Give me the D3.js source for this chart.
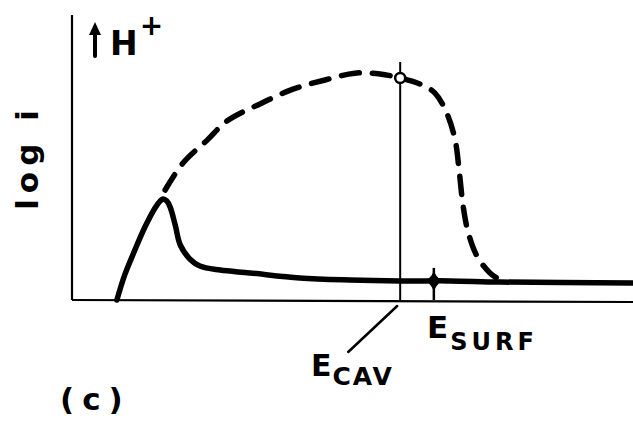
<!DOCTYPE html>
<html>
<head>
<meta charset="utf-8">
<script src="https://cdn.jsdelivr.net/npm/d3@7/dist/d3.min.js"></script>
<style>
  html, body { margin: 0; padding: 0; background: #fff; }
  svg text { font-family: "DejaVu Sans", sans-serif; font-weight: bold; fill: #000; }
</style>
</head>
<body>
<svg id="chart" width="633" height="423"></svg>
<script>
// Potential (arbitrary units, 0–100 across the axis) and log current (0–100)
const solidE    = [8.0, 9.4, 11.2, 13.0, 14.8, 15.7, 16.2, 16.9, 17.5, 18.4, 19.3, 21.0, 22.8, 26.4, 31.7, 40.6, 49.6, 58.5, 67.4, 76.3, 100];
const solidLogI = [0, 8.8, 17.5, 25.6, 32.3, 34.7, 35.4, 34.7, 32.6, 26.3, 19.3, 14.4, 11.9, 10.5, 9.5, 7.7, 7.0, 6.7, 6.7, 6.3, 6.0];

const dashedE    = [16.6, 19.8, 24.1, 27.6, 33.5, 39.4, 45.1, 50.4, 54.9, 58.5, 62.0, 64.7, 66.8, 68.3, 69.0, 69.7, 70.6, 72.2, 74.5, 76.6];
const dashedLogI = [38.6, 48.1, 56.1, 62.8, 68.8, 74.0, 77.2, 79.6, 79.3, 77.9, 75.8, 72.6, 65.6, 56.1, 45.6, 33.3, 23.9, 15.4, 9.5, 6.7];

const eCav  = 58.5;   // cavitation potential
const eSurf = 64.5;   // surface potential
const eCavTop = 83.5; // top of the E_CAV guide line (log i units)

const svg = d3.select("#chart");

const x = d3.scaleLinear().domain([0, 100]).range([72, 633]);
const y = d3.scaleLinear().domain([0, 100]).range([300, 15]);

// Axes: plain lines, no ticks
svg.append("line")
  .attr("x1", x(0)).attr("x2", x(0))
  .attr("y1", y(0)).attr("y2", y(100))
  .attr("stroke", "#000").attr("stroke-width", 2.2);
svg.append("line")
  .attr("x1", x(0)).attr("x2", x(100))
  .attr("y1", y(0)).attr("y2", y(0) + 2)
  .attr("stroke", "#000").attr("stroke-width", 2.2);

const line = d3.line()
  .x(d => x(d[0]))
  .y(d => y(d[1]))
  .curve(d3.curveCatmullRom.alpha(0.5));

// Solid curve
svg.append("path")
  .datum(solidE.map((e, i) => [e, solidLogI[i]]))
  .attr("d", line)
  .attr("fill", "none")
  .attr("stroke", "#000")
  .attr("stroke-width", 5.5)
  .attr("stroke-linejoin", "round")
  .attr("stroke-linecap", "round");

// Dashed curve
svg.append("path")
  .datum(dashedE.map((e, i) => [e, dashedLogI[i]]))
  .attr("d", line)
  .attr("fill", "none")
  .attr("stroke", "#000")
  .attr("stroke-width", 5.5)
  .attr("stroke-dasharray", "18 13")
  .attr("stroke-linecap", "round");

// E_CAV vertical guide
svg.append("line")
  .attr("x1", x(eCav)).attr("x2", x(eCav))
  .attr("y1", y(eCavTop)).attr("y2", y(0))
  .attr("stroke", "#000").attr("stroke-width", 2);

// Open circle where the guide meets the dashed curve
const cavI = dashedLogI[dashedE.indexOf(eCav)];
svg.append("circle")
  .attr("cx", x(eCav)).attr("cy", y(cavI)).attr("r", 5)
  .attr("fill", "#fff").attr("stroke", "#000").attr("stroke-width", 2.5);

// E_SURF marker: tick plus a filled dot on the solid curve
const surfI = 6.7;
svg.append("line")
  .attr("x1", x(eSurf)).attr("x2", x(eSurf))
  .attr("y1", y(surfI) - 13).attr("y2", y(0))
  .attr("stroke", "#000").attr("stroke-width", 2.5);
svg.append("path")
  .attr("d", d3.symbol().type(d3.symbolDiamond).size(110)())
  .attr("transform", `translate(${x(eSurf)},${y(surfI)})`)
  .attr("fill", "#000");
svg.append("circle")
  .attr("cx", x(eSurf)).attr("cy", y(surfI)).attr("r", 5.5)
  .attr("fill", "#000");

// E_CAV leader line
svg.append("line")
  .attr("x1", x(eCav) - 52).attr("y1", 352)
  .attr("x2", x(eCav) - 3).attr("y2", 306)
  .attr("stroke", "#000").attr("stroke-width", 2.5).attr("stroke-linecap", "round");

// Labels
const cav = svg.append("text").attr("x", 311).attr("y", 376).attr("font-size", 30);
cav.append("tspan").text("E");
cav.append("tspan").attr("font-size", 25).attr("dy", 9).attr("dx", 1)
  .attr("letter-spacing", 2).text("CAV");

const surf = svg.append("text").attr("x", 427).attr("y", 338).attr("font-size", 31);
surf.append("tspan").text("E");
surf.append("tspan").attr("font-size", 24).attr("dy", 12).attr("dx", 2)
  .attr("letter-spacing", 4).text("SURF");

svg.append("text")
  .attr("transform", "translate(38,157) rotate(-90)")
  .attr("text-anchor", "middle")
  .attr("font-size", 31)
  .attr("letter-spacing", 6)
  .text("log i");

// H+ arrow and label
svg.append("line")
  .attr("x1", 95).attr("x2", 95).attr("y1", 56).attr("y2", 30)
  .attr("stroke", "#000").attr("stroke-width", 4).attr("stroke-linecap", "round");
svg.append("path")
  .attr("d", "M89,35 L95,22 L101,35 Z")
  .attr("fill", "#000");
const h = svg.append("text").attr("x", 110).attr("y", 55).attr("font-size", 33);
h.append("tspan").text("H");
h.append("tspan").attr("font-size", 28).attr("dy", -20).attr("dx", 2).text("+");

svg.append("text")
  .attr("x", 60).attr("y", 410)
  .attr("font-size", 31)
  .attr("letter-spacing", 8)
  .text("(c)");
</script>
</body>
</html>
